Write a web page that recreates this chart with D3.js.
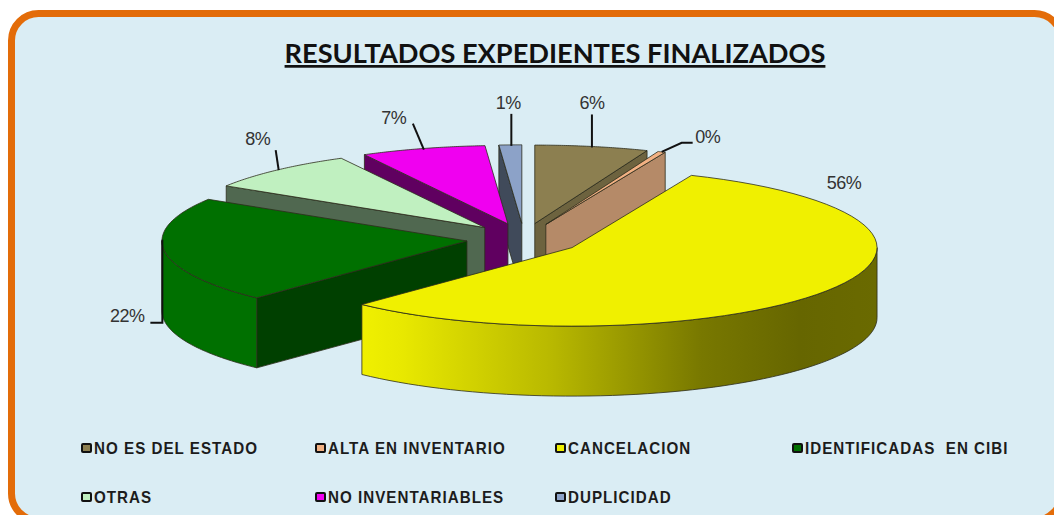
<!DOCTYPE html>
<html>
<head>
<meta charset="utf-8">
<script src="https://cdnjs.cloudflare.com/ajax/libs/d3/7.8.5/d3.min.js"></script>
<style>
html,body{margin:0;padding:0;background:#fff;overflow:hidden}
svg{display:block}
</style>
</head>
<body>
<svg id="chart" width="1054" height="515"></svg>
<script>
// ---- data ----
const titleText = "RESULTADOS EXPEDIENTES FINALIZADOS";
const categories = ["NO ES DEL ESTADO","ALTA EN INVENTARIO","CANCELACION","IDENTIFICADAS  EN CIBI","OTRAS","NO INVENTARIABLES","DUPLICIDAD"];
const values = [6.0,0.4,55.7,21.8,8.3,6.6,1.2];

// ---- styles ----
const topColors  = ["#8c7f50","#f2b183","#f0f000","#007000","#c0f0c0","#f000f0","#8ca2c8"];
const sideColors = ["#6d633f","#b58a68","#8c8c00","#004000","#506850","#600060","#404a5a"];
const wallStops  = [[0,"#f0f000"],[.08,"#e8e800"],[.37,"#b8b800"],[.66,"#787800"],[.85,"#666600"],[1,"#6a6a00"]];

// ---- layout ----
const W = 1054, H = 515;
const cx = 524, cy = 239, rx = 305, ry = 78.5, depth = 70;
const explodeX = 57.5, explodeY = 15.7;
const drawOrder = [0,1,6,5,4,3,2];
const leaderPaths = [
  [[0,1],[0,-32]],
  [[0,0],[20,-9],[31,-9]],
  [],
  [[-2,-11],[-2,72],[-14,72]],
  [[2,0],[-1,-20]],
  [[1,1],[-10,-25]],
  [[1,1],[1,-31]]
];
const labelOffsets = [[0,-43],[46,-15],[17,-108],[-37,65],[-19,-31],[-29,-31],[-2,-42]];
const legendCols = [81,315,555,792], legendRows = [448,497];

// ---- scaffold ----
const svg = d3.select("#chart");
const defs = svg.append("defs");
const grad = defs.append("linearGradient").attr("id","wallGrad");
grad.selectAll("stop").data(wallStops).join("stop")
  .attr("offset",d=>d[0]).attr("stop-color",d=>d[1]);

svg.append("rect").attr("x",11.5).attr("y",13.5).attr("width",1050).attr("height",507)
  .attr("rx",27).attr("ry",27).attr("fill","#daedf4").attr("stroke","#e36c09").attr("stroke-width",7);

svg.append("text").attr("x",555).attr("y",63).attr("text-anchor","middle")
  .attr("font-family","Lato, 'Open Sans', sans-serif").attr("font-weight",700)
  .attr("font-size",27.2).attr("fill","#111").attr("text-decoration","underline")
  .text(titleText);

// ---- pie ----
const pieGen = d3.pie().sort(null).value(d=>d).startAngle(0).endAngle(2*Math.PI);
const arcs = pieGen(values);
const total = d3.sum(values);
const pct = d3.format(".0%");
const path = d3.line();

const apex = a => {
  const m = (a.startAngle+a.endAngle)/2;
  return [cx + explodeX*Math.sin(m), cy - explodeY*Math.cos(m)];
};
const rimAt = (a,t) => { const p = apex(a); return [p[0]+rx*Math.sin(t), p[1]-ry*Math.cos(t)]; };
const rimPts = (a,t0,t1) => d3.range(0,61).map(i=>rimAt(a,t0+(t1-t0)*i/60));
const down = p => [p[0],p[1]+depth];
const stroke = "#2c2c1c";

const g = svg.append("g");
drawOrder.forEach(i=>{
  const a = arcs[i], c = apex(a), a0 = a.startAngle, a1 = a.endAngle;
  const slice = g.append("g");
  const face = (pts,fill)=>slice.append("path").attr("d",path(pts)+"Z")
    .attr("fill",fill).attr("stroke",stroke).attr("stroke-width",.8).attr("stroke-linejoin","round");
  // visible cut faces
  if (Math.sin(a0) < -1e-6) { const r = rimAt(a,a0); face([c,r,down(r),down(c)],sideColors[i]); }
  if (Math.sin(a1) >  1e-6) { const r = rimAt(a,a1); face([c,r,down(r),down(c)],sideColors[i]); }
  // outer wall, front half only
  const w0 = Math.max(a0,Math.PI/2), w1 = Math.min(a1,3*Math.PI/2);
  if (w1 > w0) {
    const rim = rimPts(a,w0,w1);
    face(rim.concat(rim.map(down).reverse()), i===2 ? "url(#wallGrad)" : topColors[i]);
  }
  // top
  face([c].concat(rimPts(a,a0,a1)),topColors[i]);
});

// ---- labels and leaders ----
arcs.forEach((a,i)=>{
  const r = rimAt(a,(a.startAngle+a.endAngle)/2);
  if (leaderPaths[i].length) {
    svg.append("path").attr("d",path(leaderPaths[i].map(o=>[r[0]+o[0],r[1]+o[1]])))
      .attr("fill","none").attr("stroke","#111").attr("stroke-width",2);
  }
  svg.append("text").attr("x",r[0]+labelOffsets[i][0]).attr("y",r[1]+labelOffsets[i][1])
    .attr("text-anchor","middle").attr("dominant-baseline","central")
    .attr("font-family","'Liberation Sans', Arial, sans-serif").attr("font-size",18)
    .attr("letter-spacing",-.5).attr("fill","#333")
    .text(pct(Math.round(a.data/total*100)/100));
});

// ---- legend ----
categories.forEach((name,i)=>{
  const col = legendCols[i%4], row = legendRows[Math.floor(i/4)];
  svg.append("rect").attr("x",col+1).attr("y",row-4).attr("width",9).attr("height",8)
    .attr("rx",1).attr("fill",topColors[i]).attr("stroke","#111").attr("stroke-width",2);
  svg.append("text").attr("transform",`translate(${col+13},${row+6}) scale(.92,1)`)
    .style("white-space","pre")
    .attr("font-family","'Liberation Sans', Arial, sans-serif").attr("font-weight",700)
    .attr("font-size",16.5).attr("letter-spacing",1.1).attr("fill","#1c1c1c").text(name);
});
</script>
</body>
</html>
